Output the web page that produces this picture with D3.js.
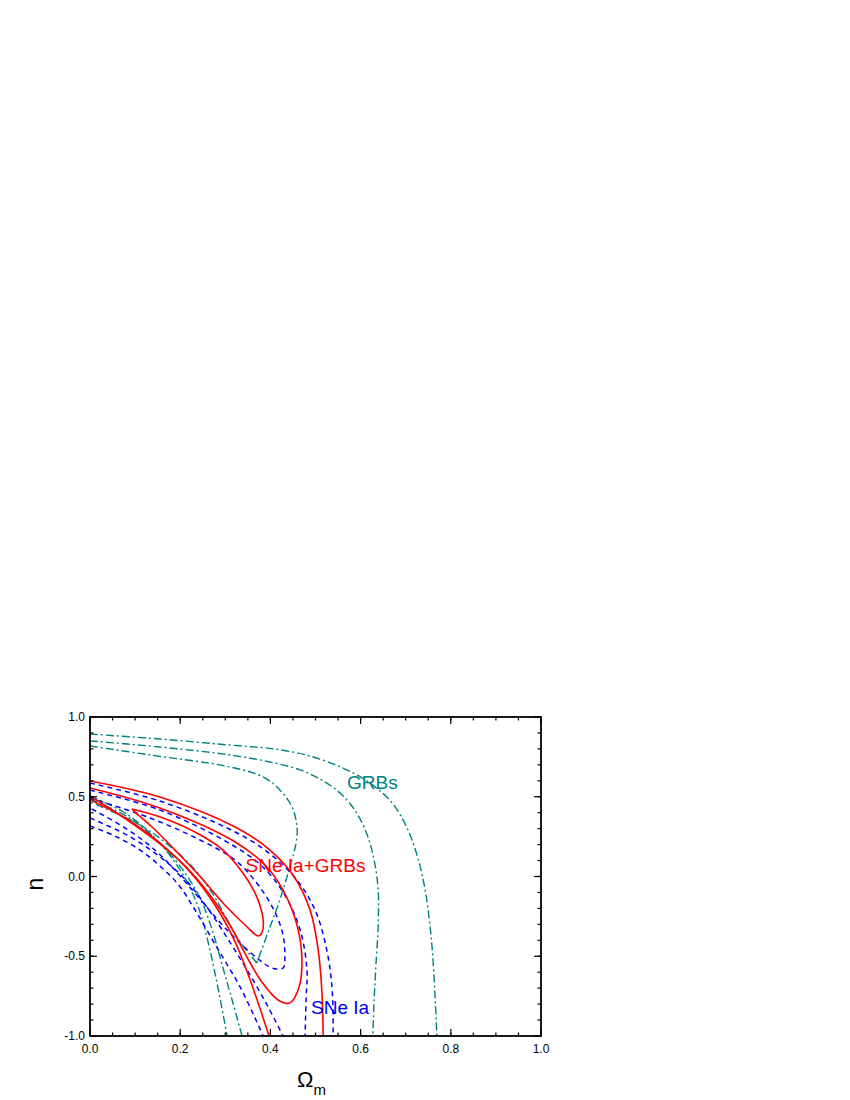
<!DOCTYPE html>
<html><head><meta charset="utf-8">
<script src="https://cdn.jsdelivr.net/npm/d3@7"></script>
<style>body{margin:0;background:#fff}svg{display:block}</style>
</head><body>
<script>
// ---- data (Omega_m, n) ----
const xTicks = [0.0, 0.2, 0.4, 0.6, 0.8, 1.0];
const yTicks = [-1.0, -0.5, 0.0, 0.5, 1.0];

// GRBs (dash-dot, teal)
const grbOuterUpper = [[0,0.893],[0.155,0.862],[0.310,0.824],[0.410,0.799],[0.488,0.755],[0.561,0.680],[0.621,0.586],[0.670,0.461],[0.703,0.304],[0.727,0.116],[0.745,-0.116],[0.758,-0.429],[0.765,-0.743],[0.769,-1.0]];
const grbOuterLower = [[0,0.505],[0.078,0.398],[0.144,0.241],[0.188,0.091],[0.222,-0.072],[0.246,-0.241],[0.266,-0.461],[0.286,-0.730],[0.304,-1.0]];
const grbMidUpper = [[0,0.850],[0.155,0.812],[0.310,0.762],[0.399,0.718],[0.466,0.668],[0.514,0.605],[0.557,0.517],[0.590,0.404],[0.614,0.266],[0.630,0.103],[0.639,-0.085],[0.639,-0.304],[0.634,-0.555],[0.630,-0.774],[0.627,-1.0]];
const grbMidLower = [[0,0.486],[0.084,0.373],[0.155,0.210],[0.206,0.041],[0.244,-0.135],[0.271,-0.335],[0.295,-0.574],[0.317,-0.793],[0.337,-1.0]];
const grbInnerUpper = [[0,0.818],[0.133,0.762],[0.310,0.687],[0.384,0.624],[0.421,0.542],[0.448,0.436],[0.459,0.310],[0.457,0.210],[0.443,0.060],[0.421,-0.147],[0.399,-0.317],[0.370,-0.542]];
const grbInnerLower = [[0.370,-0.542],[0.333,-0.411],[0.302,-0.260],[0.271,-0.103],[0.233,0.041],[0.182,0.179],[0.111,0.323],[0,0.467]];

// SNe Ia + GRBs (solid, red)
const jointOuterUpper = [[0,0.599],[0.155,0.498],[0.322,0.310],[0.399,0.166],[0.450,0.009],[0.488,-0.210],[0.506,-0.461],[0.514,-0.712],[0.517,-1.0]];
const jointOuterLower = [[0,0.480],[0.078,0.367],[0.155,0.210],[0.222,0.028],[0.277,-0.179],[0.322,-0.411],[0.359,-0.680],[0.397,-1.0]];
const jointMid = [[0,0.555],[0.155,0.429],[0.322,0.216],[0.388,0.072],[0.428,-0.085],[0.459,-0.304],[0.470,-0.524],[0.463,-0.699],[0.443,-0.793],[0.417,-0.774],[0.381,-0.661],[0.348,-0.505],[0.310,-0.304],[0.266,-0.116],[0.211,0.066],[0.144,0.229],[0.073,0.373],[0,0.505]];
const jointInner = [[0.093,0.423],[0.162,0.367],[0.237,0.273],[0.295,0.166],[0.339,0.022],[0.370,-0.129],[0.384,-0.273],[0.381,-0.354],[0.373,-0.373],[0.344,-0.304],[0.299,-0.179],[0.251,-0.022],[0.195,0.147],[0.140,0.304],[0.100,0.404],[0.093,0.423]];

// SNe Ia (dashed, blue)
const sneOuterUpper = [[0,0.586],[0.155,0.473],[0.304,0.304],[0.388,0.166],[0.455,-0.009],[0.499,-0.210],[0.525,-0.461],[0.537,-0.712],[0.539,-1.0]];
const sneOuterLower = [[0,0.317],[0.055,0.254],[0.111,0.166],[0.155,0.066],[0.195,-0.047],[0.233,-0.210],[0.282,-0.448],[0.333,-0.693],[0.384,-1.0]];
const sneMidUpper = [[0,0.542],[0.155,0.417],[0.304,0.216],[0.381,0.066],[0.432,-0.116],[0.466,-0.335],[0.481,-0.586],[0.479,-0.774],[0.477,-1.0]];
const sneMidLower = [[0,0.367],[0.078,0.266],[0.144,0.147],[0.206,-0.003],[0.259,-0.191],[0.310,-0.411],[0.355,-0.618],[0.395,-0.818],[0.428,-1.0]];
const sneInner = [[0,0.492],[0.133,0.367],[0.244,0.229],[0.322,0.103],[0.373,-0.053],[0.410,-0.223],[0.428,-0.367],[0.432,-0.492],[0.428,-0.574],[0.404,-0.574],[0.370,-0.511],[0.310,-0.354],[0.255,-0.179],[0.200,0.003],[0.144,0.166],[0.078,0.304],[0,0.429]];

const labels = [
  {text:"GRBs", x:0.57, y:0.55, color:"#008080"},
  {text:"SNe Ia+GRBs", x:0.345, y:0.03, color:"#ff0000"},
  {text:"SNe Ia", x:0.49, y:-0.86, color:"#0000ff"}
];

// ---- layout ----
const W = 850, H = 1100;
const L = 90, R = 541, T = 717, B = 1036;
const svg = d3.select("body").append("svg").attr("width", W).attr("height", H);
const x = d3.scaleLinear().domain([0, 1]).range([L, R]);
const y = d3.scaleLinear().domain([-1, 1]).range([B, T]);

svg.append("clipPath").attr("id","clip").append("rect")
  .attr("x", L).attr("y", T).attr("width", R-L).attr("height", B-T);

const line = d3.line().x(d => x(d[0])).y(d => y(d[1])).curve(d3.curveCatmullRom.alpha(0.5));
const g = svg.append("g").attr("clip-path","url(#clip)");

const teal = "#008080", red = "#ff0000", blue = "#0000ff";
[grbOuterUpper, grbOuterLower, grbMidUpper, grbMidLower, grbInnerUpper, grbInnerLower].forEach(d => {
  g.append("path").attr("d", line(d)).attr("fill","none").attr("stroke", teal)
   .attr("stroke-width",1.4).attr("stroke-dasharray","8,3,2,3");
});
[sneOuterUpper, sneOuterLower, sneMidUpper, sneMidLower, sneInner].forEach(d => {
  g.append("path").attr("d", line(d)).attr("fill","none").attr("stroke", blue)
   .attr("stroke-width",1.5).attr("stroke-dasharray","5,4");
});
[jointOuterUpper, jointOuterLower, jointMid, jointInner].forEach(d => {
  g.append("path").attr("d", line(d)).attr("fill","none").attr("stroke", red)
   .attr("stroke-width",1.6);
});

// labels
labels.forEach(l => {
  svg.append("text").attr("x", x(l.x)).attr("y", y(l.y)).attr("fill", l.color)
    .attr("font-family","Liberation Sans, Arial, sans-serif").attr("font-size", 19)
    .text(l.text);
});

// axes
const font = "Liberation Sans, Arial, sans-serif";
const xMinor = d3.range(0, 1.0001, 0.05);
const yMinor = d3.range(-1, 1.0001, 0.1);
const axG = svg.append("g");
function tick(x1,y1,x2,y2){ axG.append("line").attr("x1",x1).attr("y1",y1).attr("x2",x2).attr("y2",y2).attr("stroke","#000").attr("stroke-width",1.2); }
xMinor.forEach(v => { tick(x(v),B,x(v),B-3.5); tick(x(v),T,x(v),T+3.5); });
xTicks.forEach(v => { tick(x(v),B,x(v),B-7); tick(x(v),T,x(v),T+7); });
yMinor.forEach(v => { tick(L,y(v),L+3.5,y(v)); tick(R,y(v),R-3.5,y(v)); });
yTicks.forEach(v => { tick(L,y(v),L+7,y(v)); tick(R,y(v),R-7,y(v)); });
axG.append("rect").attr("x",L).attr("y",T).attr("width",R-L).attr("height",B-T)
  .attr("fill","none").attr("stroke","#000").attr("stroke-width",1.8);

xTicks.forEach(v => {
  svg.append("text").attr("x", x(v)).attr("y", B+17).attr("text-anchor","middle")
    .attr("font-family",font).attr("font-size",12).text(v.toFixed(1));
});
yTicks.forEach(v => {
  svg.append("text").attr("x", L-5).attr("y", y(v)).attr("dy","0.35em").attr("text-anchor","end")
    .attr("font-family",font).attr("font-size",12).text(v.toFixed(1));
});

// axis titles
const xt = svg.append("text").attr("x", 297).attr("y", 1087).attr("font-family",font).attr("font-size",22);
xt.append("tspan").text("Ω");
xt.append("tspan").attr("dy",8).attr("font-size",15).text("m");
svg.append("text").attr("transform","translate(43,884) rotate(-90)").attr("text-anchor","middle")
  .attr("font-family",font).attr("font-size",23).text("n");
</script>
</body></html>
